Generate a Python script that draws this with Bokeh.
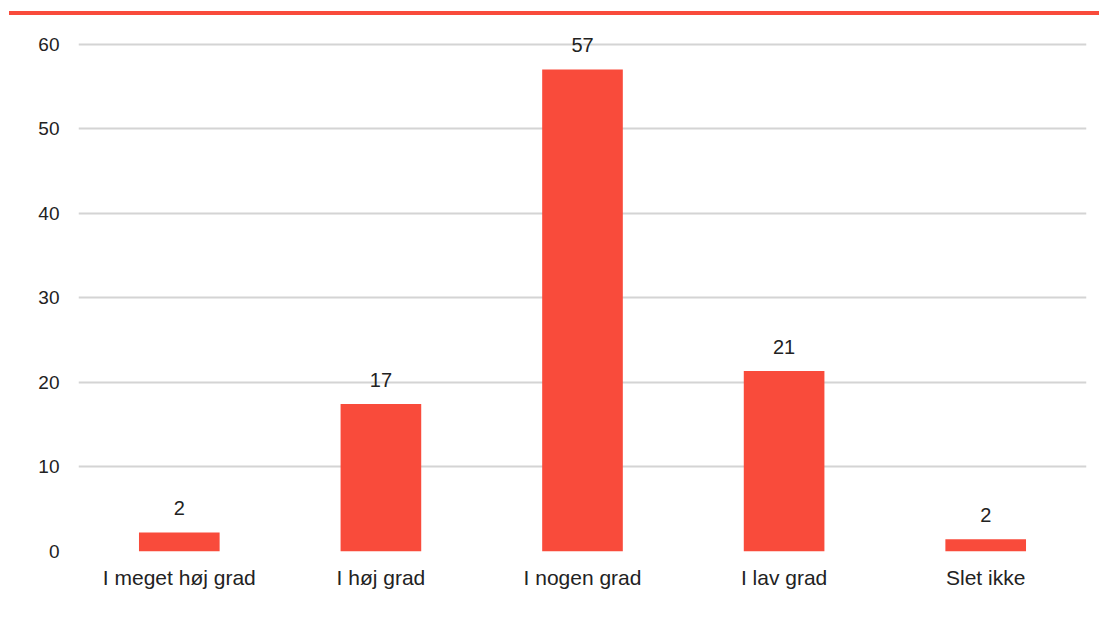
from bokeh.plotting import figure
from bokeh.models import ColumnDataSource, Range1d, FixedTicker, Div, LabelSet
from bokeh.core.properties import value
from bokeh.layouts import column
from bokeh.embed import file_html
from bokeh.resources import INLINE

categories = ["I meget høj grad", "I høj grad", "I nogen grad", "I lav grad", "Slet ikke"]
values = [2.25, 17.45, 57.05, 21.35, 1.45]
labels = ["2", "17", "57", "21", "2"]
y_ticks = [0, 10, 20, 30, 40, 50, 60]

RED = "#f94b3b"
FONT = "Liberation Sans"

src = ColumnDataSource(data=dict(cat=categories, val=values, lab=labels))

p = figure(x_range=categories, y_range=Range1d(0, 63.31), width=1091, height=595,
           output_backend="svg", toolbar_location=None,
           min_border_left=78, min_border_right=5, min_border_top=1, min_border_bottom=59)
p.vbar(x="cat", top="val", width=0.4, source=src, fill_color=RED, line_color=None)

lbl = LabelSet(x="cat", y="val", text="lab", source=src, text_align="center",
               text_baseline="bottom", y_offset=17, text_font=value(FONT),
               text_font_size="20px", text_color="#222222")
p.add_layout(lbl)

p.outline_line_color = None
p.background_fill_color = "white"
p.border_fill_color = "white"
p.xgrid.grid_line_color = None
p.ygrid.grid_line_color = "#d4d4d4"
p.ygrid.grid_line_width = 2
p.yaxis.ticker = FixedTicker(ticks=y_ticks)

for ax in (p.xaxis[0], p.yaxis[0]):
    ax.axis_line_color = None
    ax.major_tick_line_color = None
    ax.minor_tick_line_color = None
    ax.major_tick_out = 0
    ax.major_tick_in = 0
    ax.major_label_text_font = FONT
    ax.major_label_text_color = "#222222"

p.yaxis.major_label_text_font_size = "19px"
p.yaxis.major_label_standoff = 19
p.xaxis.major_label_text_font_size = "21px"
p.xaxis.major_label_standoff = 14

bar = Div(text="", width=1090, height=4, margin=(11, 0, 0, 9),
          styles={"background-color": RED})

layout = column(bar, p, spacing=0)

open("out.html", "w").write(file_html(layout, INLINE))
